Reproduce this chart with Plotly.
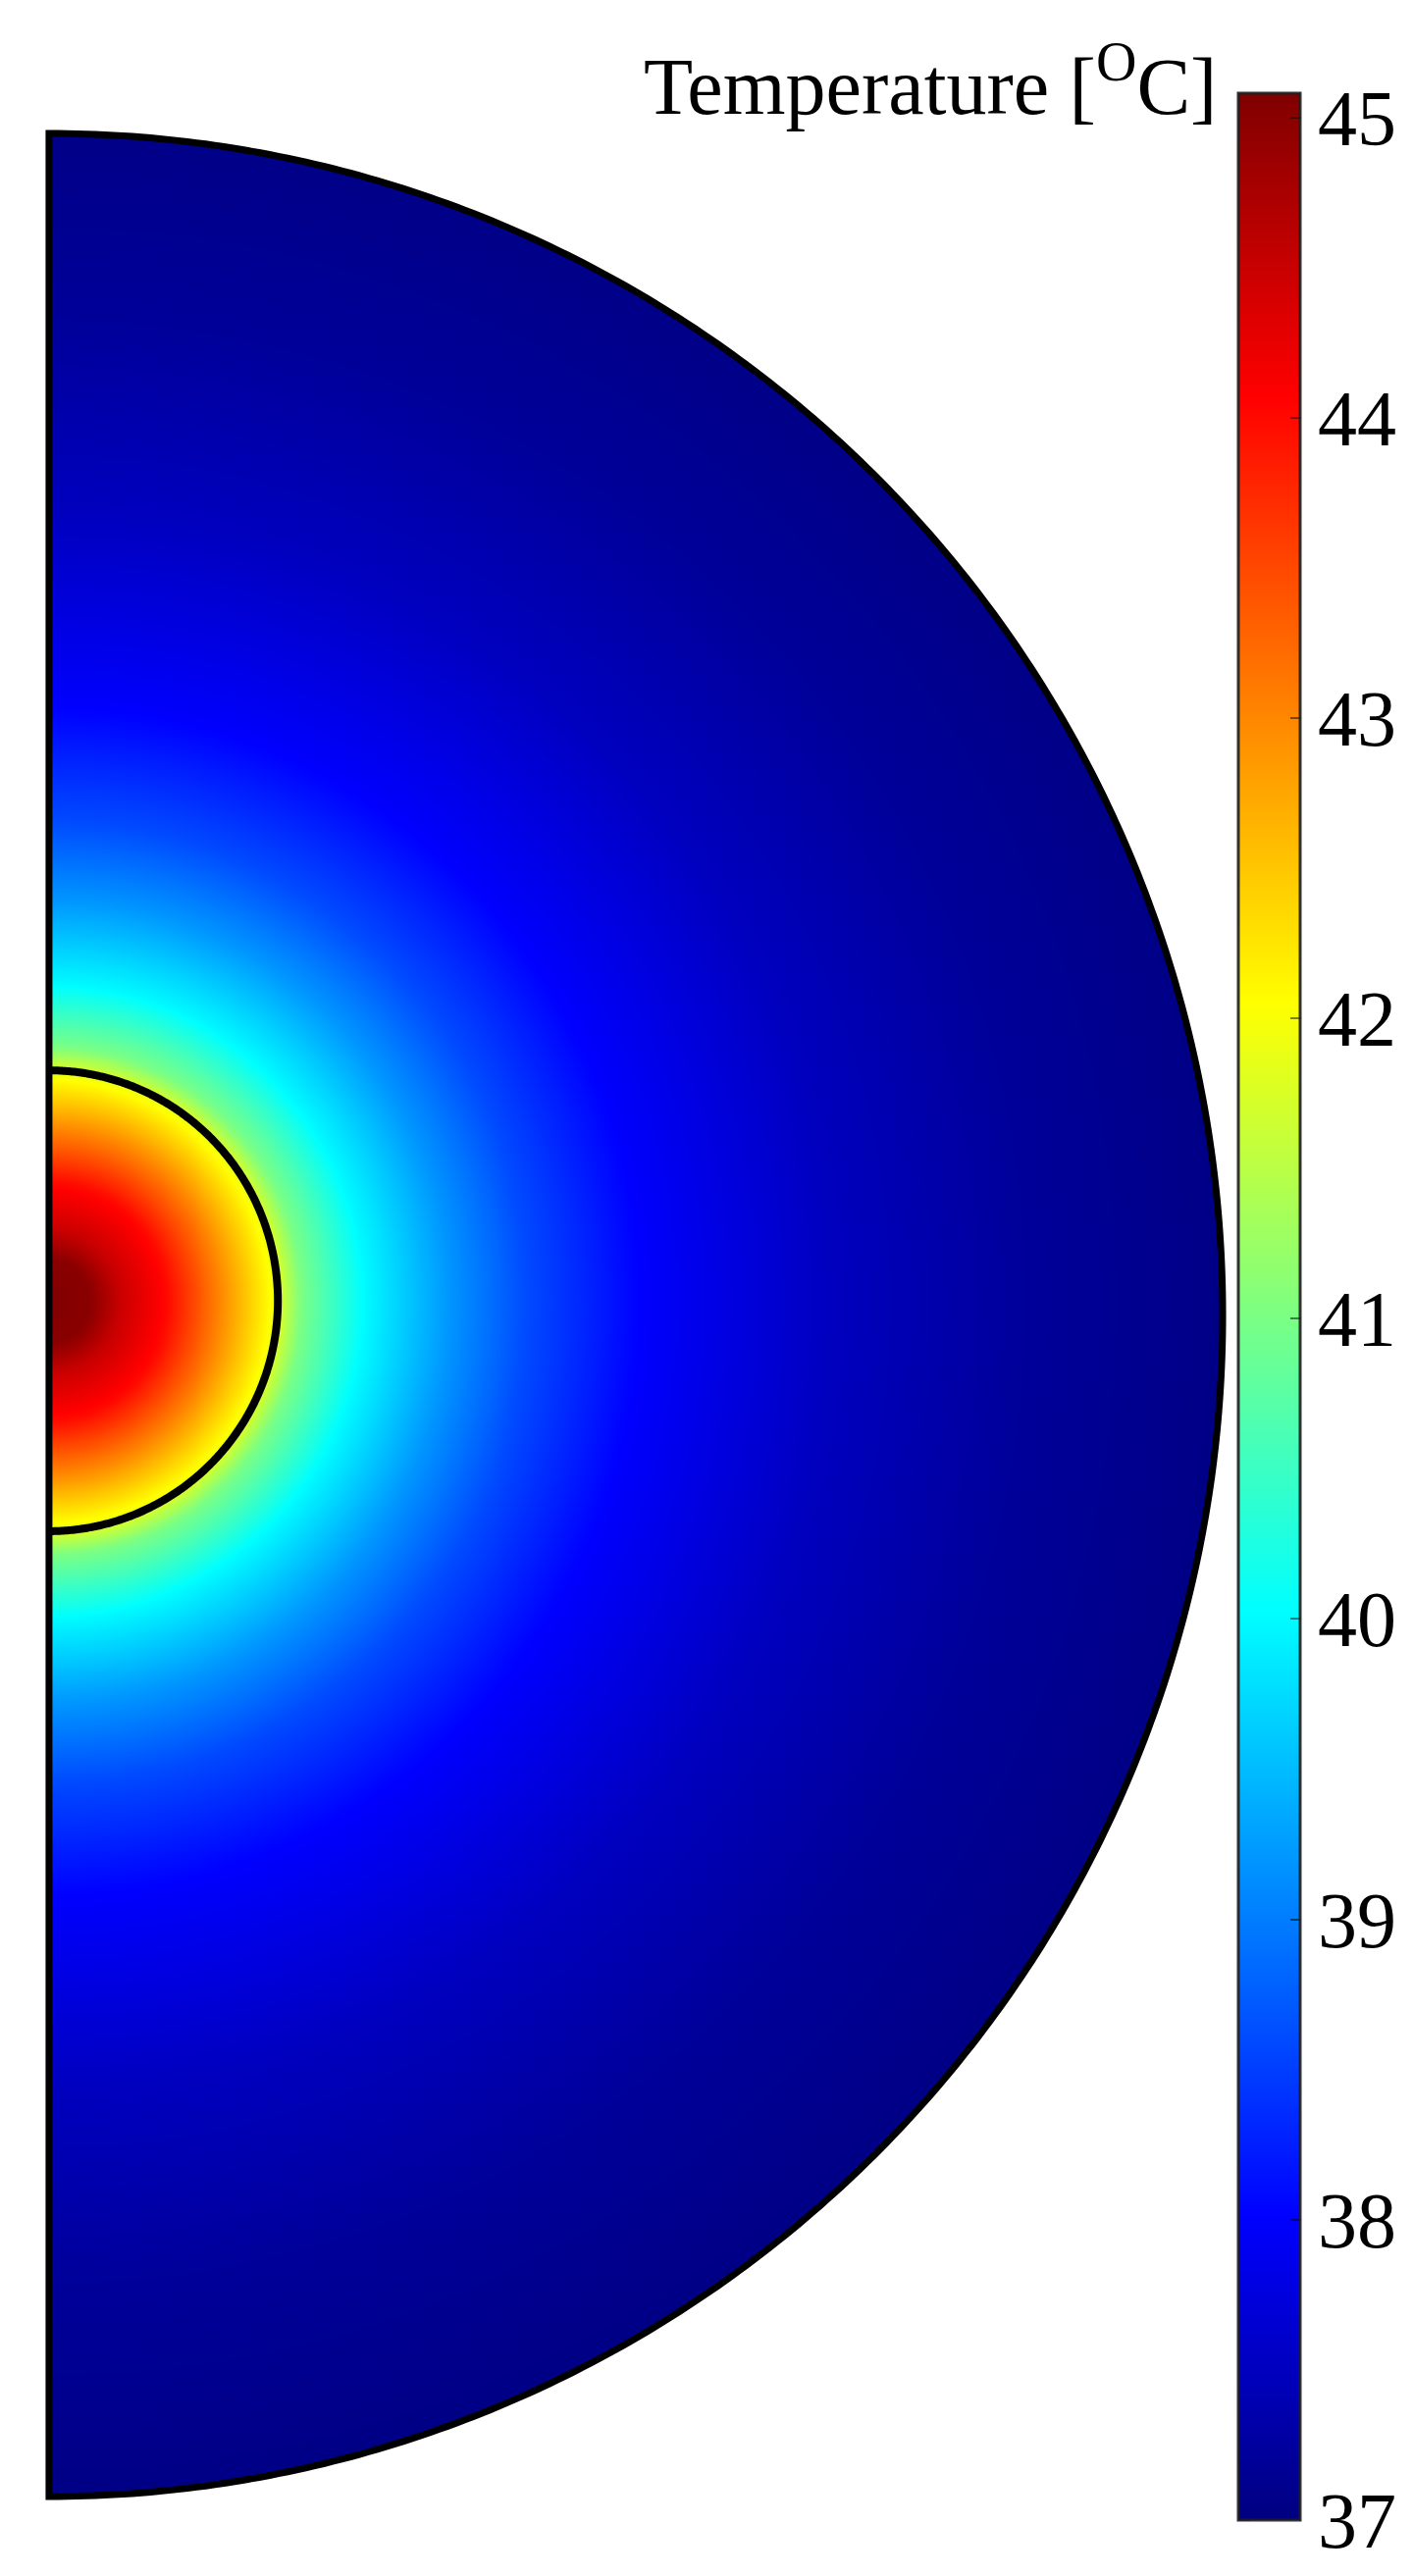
import numpy as np
import plotly.graph_objects as go

# temperature profile read outward from the tumour centre (r scaled by outer radius)
radius = [0.0, 0.035, 0.06, 0.10, 0.146, 0.19, 0.215, 0.268, 0.34, 0.407, 0.504, 0.60, 0.667, 0.833, 1.0, 1.1]
temperature = [45.08, 45.0, 44.5, 44.0, 43.0, 42.0, 41.0, 40.0, 39.2, 38.6, 38.0, 37.7, 37.5, 37.2, 37.05, 37.0]

tumor_radius = 0.195
tumor_y = 0.012
t_min, t_max = 37, 45.08
tick_vals = [37, 38, 39, 40, 41, 42, 43, 44, 45]

jet = [[0.0, 'rgb(0,0,128)'], [0.125, 'rgb(0,0,255)'], [0.375, 'rgb(0,255,255)'],
       [0.625, 'rgb(255,255,0)'], [0.875, 'rgb(255,0,0)'], [1.0, 'rgb(128,0,0)']]

# plot area in pixels
l, pw, t, ph = 24, 1230, 110, 2445
# colour bar box in pixels
cb_left, cb_top, cb_bottom, cb_w = 1258, 87, 2561, 63


def px_x(px):
    return (px - l) / pw


def px_y(py):
    return (t + ph - py) / ph


# field on a grid covering the half disk
xs = np.linspace(0, 1, 301)
ys = np.linspace(-1, 1, 601)
X, Y = np.meshgrid(xs, ys)
R = np.sqrt(X ** 2 + (Y - tumor_y) ** 2)
Z = np.round(np.interp(R, radius, temperature), 3)

fig = go.Figure(go.Heatmap(
    x=xs, y=ys, z=Z, zmin=t_min, zmax=t_max, zsmooth='best',
    colorscale=jet, hoverinfo='skip',
    colorbar=dict(
        x=px_x(cb_left), xanchor='left', xpad=0,
        y=px_y(cb_top), yanchor='top', ypad=0,
        thickness=cb_w, thicknessmode='pixels',
        len=cb_bottom - cb_top, lenmode='pixels',
        tickvals=tick_vals, ticks='inside', ticklen=11, tickwidth=2,
        tickcolor='rgba(0,0,0,0.5)',
        tickfont=dict(family='Liberation Serif', size=80, color='black'),
        outlinewidth=3, outlinecolor='rgba(30,30,30,0.9)'),
))

# outline paths
th = np.linspace(np.pi / 2, -np.pi / 2, 400)
outer = 'M ' + ' L '.join(f'{np.cos(a):.5f},{np.sin(a):.5f}' for a in th)
inner = 'M ' + ' L '.join(f'{tumor_radius * np.cos(a):.5f},{tumor_y + tumor_radius * np.sin(a):.5f}' for a in th)
mask = 'M -0.05,1.05 L 1.05,1.05 L 1.05,-1.05 L -0.05,-1.05 Z ' + outer + ' Z'

shapes = [
    dict(type='path', path=mask, xref='x', yref='y', fillcolor='white',
         line=dict(width=0), fillrule='evenodd', layer='above'),
    dict(type='path', path=outer + ' Z', xref='x', yref='y',
         line=dict(color='black', width=7), layer='above'),
    dict(type='path', path=inner, xref='x', yref='y',
         line=dict(color='black', width=8), layer='above'),
]

# inside ticks on the left edge of the colour bar
for v in tick_vals:
    py = cb_bottom - (v - t_min) / (t_max - t_min) * (cb_bottom - cb_top)
    shapes.append(dict(type='line', xref='paper', yref='paper',
                       x0=px_x(cb_left + 1), x1=px_x(cb_left + 12), y0=px_y(py), y1=px_y(py),
                       line=dict(color='rgba(0,0,0,0.5)', width=2)))

fig.update_layout(
    width=1440, height=2626,
    margin=dict(l=l, r=1440 - l - pw, t=t, b=2626 - t - ph),
    paper_bgcolor='white', plot_bgcolor='white',
    xaxis=dict(range=[-0.015, 1.01], visible=False),
    yaxis=dict(range=[-1.015, 1.015], visible=False),
    shapes=shapes,
    annotations=[dict(
        text='Temperature [<sup>O</sup>C]', xref='paper', yref='paper',
        x=px_x(1238), y=px_y(74), xanchor='right', yanchor='middle',
        showarrow=False, font=dict(family='Liberation Serif', size=82, color='black'))],
)

fig.write_html('out.html')
